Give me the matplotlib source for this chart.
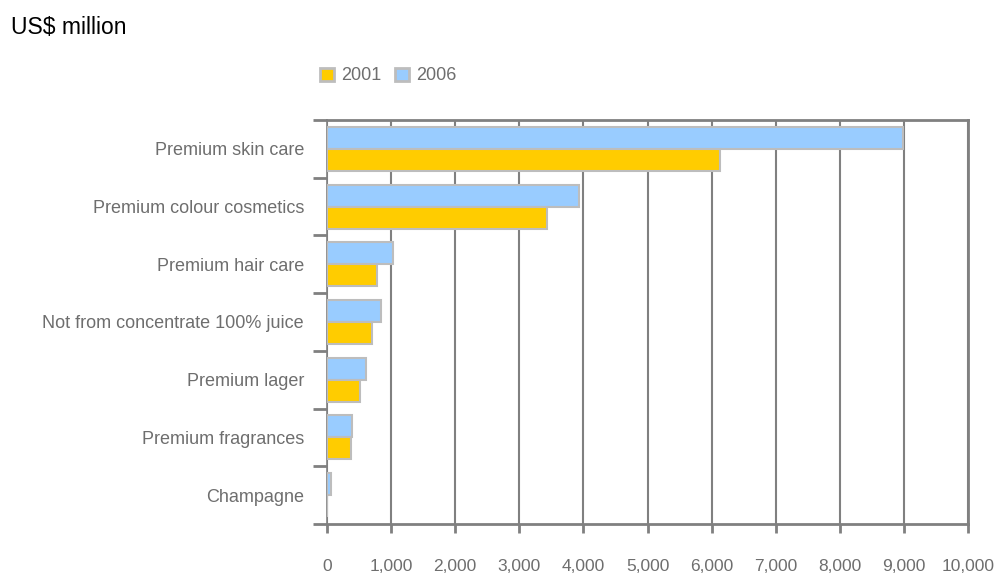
import matplotlib
matplotlib.use("Agg")
import matplotlib.pyplot as plt
import numpy as np
from matplotlib.patches import Rectangle

categories = ["Premium skin care", "Premium colour cosmetics", "Premium hair care",
              "Not from concentrate 100% juice", "Premium lager", "Premium fragrances",
              "Champagne"]
values_2001 = [6130, 3430, 780, 700, 510, 370, 0]
values_2006 = [8980, 3930, 1030, 840, 610, 390, 60]
xticks = list(range(0, 10001, 1000))
xtick_labels = ["0", "1,000", "2,000", "3,000", "4,000", "5,000", "6,000", "7,000",
                "8,000", "9,000", "10,000"]

C2001 = "#FFCC00"
C2006 = "#99CCFF"
EDGE = "#BDBDBD"
AX = "#808080"
TXT = "#6E6E6E"
FONT = "Liberation Sans"

W, H = 997, 574
fig = plt.figure(figsize=(W / 100, H / 100), dpi=100)
ax = fig.add_axes([327 / W, 1 - 524 / H, (968 - 327) / W, (524 - 120) / H])

n = len(categories)
pos = np.arange(n)
bh = 0.38
ax.barh(pos - bh / 2, values_2006, height=bh, color=C2006, edgecolor=EDGE, linewidth=1.5, zorder=3)
ax.barh(pos + bh / 2, values_2001, height=bh, color=C2001, edgecolor=EDGE, linewidth=1.5, zorder=3)

ax.set_ylim(n - 0.5, -0.5)
ax.set_xlim(0, 10000)
ax.set_xticks(xticks)
ax.set_xticklabels(xtick_labels, family=FONT, fontsize=12.5, color=TXT)
ax.set_yticks(pos)
ax.set_yticklabels(categories, family=FONT, fontsize=13, color=TXT)
ax.set_yticks(np.arange(n + 1) - 0.5, minor=True)
ax.tick_params(axis="y", which="major", length=0, pad=16.5)
ax.tick_params(axis="y", which="minor", length=10, width=2, color=AX, direction="out")
ax.tick_params(axis="x", which="major", length=6.5, width=2, color=AX, direction="out", pad=19)
ax.grid(axis="x", color=AX, linewidth=1.5, zorder=0)
for s in ax.spines.values():
    s.set_color(AX)
    s.set_linewidth(2)
ax.spines["left"].set_linewidth(1.2)

fig.text(11 / W, 1 - 28 / H, "US$ million", family=FONT, fontsize=16.5, color="black", va="center")

# legend
for x0, c, lab in [(320, C2001, "2001"), (395, C2006, "2006")]:
    fig.patches.append(Rectangle((x0 / W, 1 - 81 / H), 14 / W, 13 / H, transform=fig.transFigure,
                                 facecolor=c, edgecolor=EDGE, linewidth=2))
    fig.text((x0 + 21) / W, 1 - 75 / H, lab, family=FONT, fontsize=13, color=TXT, va="center")

fig.savefig("out.png", dpi=100)
